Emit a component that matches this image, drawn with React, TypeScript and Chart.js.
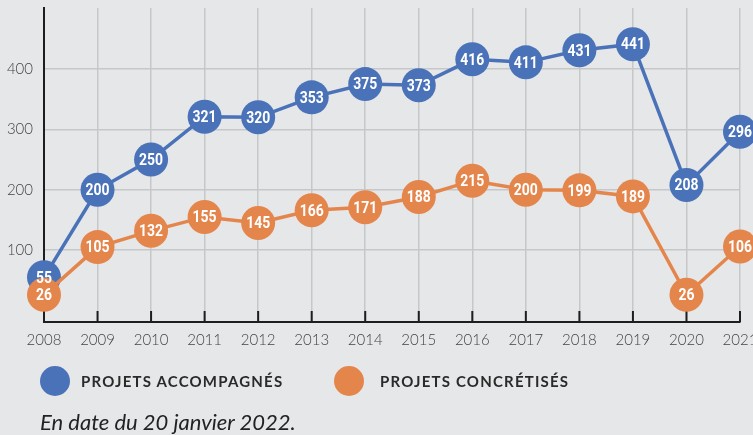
import React, { useEffect, useRef } from "react";
import { Chart, registerables } from "chart.js";

Chart.register(...registerables);

const years = ["2008", "2009", "2010", "2011", "2012", "2013", "2014", "2015", "2016", "2017", "2018", "2019", "2020", "2021"];
const accompagnes = [55, 200, 250, 321, 320, 353, 375, 373, 416, 411, 431, 441, 208, 296];
const concretises = [26, 105, 132, 155, 145, 166, 171, 188, 215, 200, 199, 189, 26, 106];
const yTickValues = [100, 200, 300, 400];
const seriesNames = ["PROJETS ACCOMPAGNÉS", "PROJETS CONCRÉTISÉS"];
const footnote = "En date du 20 janvier 2022.";

const BLUE = "#4a72b8";
const ORANGE = "#e4864c";
const BG = "#e6e7e8";
const GRID = "#c6c7c9";
const AXIS = "#1e1e1e";

const valueLabels = {
  id: "valueLabels",
  afterDatasetsDraw(chart: any) {
    const ctx = chart.ctx;
    ctx.save();
    ctx.fillStyle = "#ffffff";
    ctx.font = "bold 17px Roboto, sans-serif";
    ctx.textAlign = "center";
    ctx.textBaseline = "middle";
    chart.data.datasets.forEach((ds: any, i: number) => {
      const meta = chart.getDatasetMeta(i);
      meta.data.forEach((pt: any, j: number) => {
        ctx.save();
        ctx.translate(pt.x, pt.y + 1);
        ctx.scale(0.82, 1);
        ctx.fillText(String(ds.data[j]), 0, 0);
        ctx.restore();
      });
    });
    ctx.restore();
  },
};

const innerTicks = {
  id: "innerTicks",
  beforeDatasetsDraw(chart: any) {
    const ctx = chart.ctx;
    const xs = chart.scales.x;
    const bottom = chart.chartArea.bottom;
    ctx.save();
    ctx.strokeStyle = AXIS;
    ctx.lineWidth = 2;
    xs.ticks.forEach((_t: any, i: number) => {
      if (i === 0) return;
      const x = xs.getPixelForTick(i);
      ctx.beginPath();
      ctx.moveTo(x, bottom - 11);
      ctx.lineTo(x, bottom);
      ctx.stroke();
    });
    ctx.restore();
  },
};

export default function App() {
  const ref = useRef<HTMLCanvasElement>(null);

  useEffect(() => {
    if (!ref.current) return;
    const chart = new Chart(ref.current, {
      type: "line",
      data: {
        labels: years,
        datasets: [
          {
            label: seriesNames[0],
            data: accompagnes,
            borderColor: BLUE,
            backgroundColor: BLUE,
            pointBackgroundColor: BLUE,
            pointBorderWidth: 0,
            pointRadius: 17,
            borderWidth: 3.5,
            clip: false as any,
            order: 1,
          },
          {
            label: seriesNames[1],
            data: concretises,
            borderColor: ORANGE,
            backgroundColor: ORANGE,
            pointBackgroundColor: ORANGE,
            pointBorderWidth: 0,
            pointRadius: 17,
            borderWidth: 3.5,
            clip: false as any,
            order: 0,
          },
        ],
      },
      options: {
        responsive: false,
        animation: false,
        layout: { autoPadding: false, padding: { top: 8, right: 13, left: 0, bottom: 0 } },
        plugins: { legend: { display: false }, tooltip: { enabled: false } },
        scales: {
          x: {
            type: "category",
            offset: false,
            grid: { color: GRID, lineWidth: 1.5, drawTicks: false },
            border: { display: true, color: AXIS, width: 2 },
            ticks: {
              padding: 9,
              color: "#444",
              font: { family: "Lato", size: 15, weight: "300" as any },
              maxRotation: 0,
              autoSkip: false,
            },
            afterFit(scale: any) {
              scale.height = 113;
              scale.paddingLeft = 0;
              scale.paddingRight = 0;
            },
          },
          y: {
            min: -19,
            max: 501,
            grid: { color: GRID, lineWidth: 1.5, drawTicks: false },
            border: { display: true, color: AXIS, width: 2 },
            ticks: {
              padding: 11,
              color: "#444",
              font: { family: "Lato", size: 15, weight: "300" as any },
            },
            afterBuildTicks(scale: any) {
              scale.ticks = yTickValues.map((v) => ({ value: v }));
            },
            afterFit(scale: any) {
              scale.width = 44;
              scale.paddingTop = 0;
              scale.paddingBottom = 0;
            },
          },
        },
      },
      plugins: [valueLabels, innerTicks],
    });
    return () => chart.destroy();
  }, []);

  const legendText: React.CSSProperties = {
    position: "absolute",
    top: 372,
    fontFamily: "Lato",
    fontWeight: 700,
    fontSize: 15,
    letterSpacing: 1.2,
    color: "#2a2a2a",
    lineHeight: "18px",
    whiteSpace: "nowrap",
  };
  const dot = (left: number, color: string): React.CSSProperties => ({
    position: "absolute",
    left,
    top: 366,
    width: 30,
    height: 30,
    borderRadius: "50%",
    background: color,
  });

  return (
    <div style={{ position: "fixed", left: 0, top: 0, width: 753, height: 435, background: BG, overflow: "hidden" }}>
      <canvas ref={ref} width={753} height={435} style={{ position: "absolute", left: 0, top: 0, width: 753, height: 435 }} />
      <div style={dot(40, BLUE)} />
      <div style={{ ...legendText, left: 81 }}>{seriesNames[0]}</div>
      <div style={dot(334, ORANGE)} />
      <div style={{ ...legendText, left: 380 }}>{seriesNames[1]}</div>
      <div
        style={{
          position: "absolute",
          left: 40,
          top: 408,
          fontFamily: "Lato",
          fontStyle: "italic",
          fontSize: 22,
          lineHeight: "28px",
          color: "#222",
          whiteSpace: "nowrap",
        }}
      >
        {footnote}
      </div>
    </div>
  );
}
